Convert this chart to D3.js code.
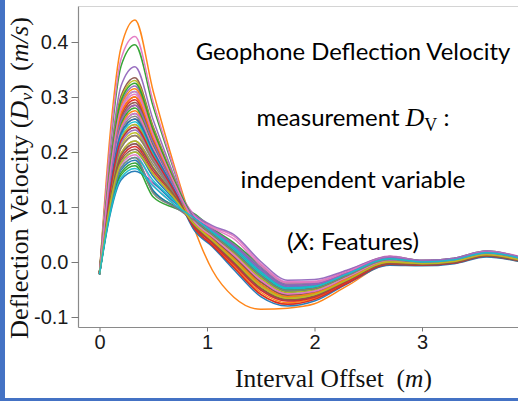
<!DOCTYPE html>
<html><head><meta charset="utf-8">
<script src="https://cdn.jsdelivr.net/npm/d3@7"></script>
<style>body{margin:0;background:#fff;} svg{display:block;}</style>
</head><body><svg id="chart" width="518" height="401"></svg>
<script>
// Interval offsets (m) at which each deflection-velocity curve is sampled
const offsets = [0, 0.1, 0.2, 0.33, 0.5, 0.7, 0.88, 1.05, 1.25, 1.5, 1.75, 2.0, 2.3, 2.7, 3.0, 3.3, 3.6, 3.95];

// Deflection velocity curves (m/s), one array per measurement
const c00 = [-0.020, 0.143, 0.243, 0.270, 0.207, 0.133, 0.078, 0.046, 0.013, -0.033, -0.058, -0.053, -0.028, 0.002, -0.002, 0.002, 0.015, 0.003];
const c01 = [-0.021, 0.235, 0.390, 0.440, 0.310, 0.172, 0.062, -0.015, -0.064, -0.086, -0.084, -0.076, -0.044, -0.004, -0.006, 0.000, 0.013, 0.001];
const c02 = [-0.019, 0.209, 0.356, 0.395, 0.282, 0.163, 0.060, 0.037, -0.001, -0.048, -0.069, -0.062, -0.034, 0.000, -0.003, 0.001, 0.013, 0.002];
const c03 = [-0.022, 0.159, 0.270, 0.300, 0.225, 0.140, 0.082, 0.050, 0.019, -0.025, -0.052, -0.048, -0.025, 0.006, 0.000, 0.004, 0.017, 0.005];
const c04 = [-0.020, 0.188, 0.320, 0.355, 0.258, 0.153, 0.063, 0.041, 0.006, -0.040, -0.063, -0.057, -0.031, -0.002, -0.004, 0.000, 0.012, 0.001];
const c05 = [-0.018, 0.178, 0.302, 0.335, 0.246, 0.148, 0.075, 0.043, 0.009, -0.036, -0.060, -0.055, -0.030, 0.004, -0.001, 0.003, 0.016, 0.004];
const c06 = [-0.021, 0.217, 0.369, 0.410, 0.291, 0.166, 0.062, 0.034, -0.004, -0.051, -0.071, -0.064, -0.036, -0.004, -0.006, -0.002, 0.011, 0.000];
const c07 = [-0.020, 0.133, 0.225, 0.250, 0.195, 0.128, 0.066, 0.055, 0.026, -0.018, -0.047, -0.044, -0.022, 0.008, 0.002, 0.006, 0.018, 0.006];
const c08 = [-0.019, 0.175, 0.297, 0.330, 0.243, 0.147, 0.080, 0.046, 0.013, -0.033, -0.058, -0.053, -0.028, 0.003, -0.001, 0.003, 0.015, 0.004];
const c09 = [-0.021, 0.164, 0.279, 0.310, 0.231, 0.142, 0.068, 0.048, 0.016, -0.029, -0.055, -0.050, -0.027, 0.001, -0.003, 0.001, 0.014, 0.002];
const c10 = [-0.023, 0.087, 0.149, 0.165, 0.144, 0.108, 0.085, 0.059, 0.032, -0.010, -0.041, -0.039, -0.019, 0.006, 0.000, 0.004, 0.017, 0.005];
const c11 = [-0.020, 0.122, 0.207, 0.230, 0.183, 0.123, 0.070, 0.052, 0.022, -0.021, -0.049, -0.046, -0.024, 0.005, 0.000, 0.004, 0.016, 0.005];
const c12 = [-0.022, 0.095, 0.162, 0.180, 0.128, 0.102, 0.088, 0.061, 0.035, -0.006, -0.038, -0.037, -0.018, 0.010, 0.003, 0.007, 0.020, 0.007];
const c13 = [-0.019, 0.151, 0.257, 0.285, 0.216, 0.136, 0.064, 0.039, 0.003, -0.044, -0.066, -0.059, -0.033, -0.001, -0.004, 0.000, 0.013, 0.002];
const c14 = [-0.020, 0.170, 0.288, 0.320, 0.237, 0.145, 0.083, 0.057, 0.029, -0.014, -0.044, -0.041, -0.021, 0.007, 0.001, 0.005, 0.018, 0.006];
const c15 = [-0.021, 0.138, 0.234, 0.260, 0.201, 0.130, 0.074, 0.043, 0.009, -0.036, -0.060, -0.055, -0.030, 0.002, -0.002, 0.002, 0.015, 0.003];
const c16 = [-0.020, 0.162, 0.275, 0.305, 0.228, 0.141, 0.086, 0.064, 0.047, -0.003, -0.036, -0.035, -0.016, 0.011, 0.003, 0.007, 0.020, 0.008];
const c17 = [-0.018, 0.117, 0.198, 0.220, 0.177, 0.121, 0.069, 0.050, 0.019, -0.025, -0.052, -0.048, -0.025, 0.004, -0.001, 0.003, 0.016, 0.004];
const c18 = [-0.020, 0.125, 0.212, 0.235, 0.186, 0.124, 0.072, 0.041, 0.006, -0.040, -0.063, -0.057, -0.031, 0.002, -0.002, 0.002, 0.015, 0.003];
const c19 = [-0.021, 0.130, 0.221, 0.245, 0.192, 0.127, 0.078, 0.052, 0.022, -0.021, -0.049, -0.046, -0.024, 0.006, 0.000, 0.004, 0.017, 0.005];
const c20 = [-0.022, 0.106, 0.180, 0.200, 0.155, 0.112, 0.070, 0.055, 0.026, -0.018, -0.047, -0.044, -0.022, 0.005, 0.000, 0.004, 0.016, 0.005];
const c21 = [-0.019, 0.146, 0.248, 0.275, 0.210, 0.134, 0.060, 0.032, -0.007, -0.055, -0.074, -0.066, -0.037, -0.003, -0.005, -0.001, 0.011, 0.000];
const c22 = [-0.023, 0.093, 0.158, 0.175, 0.118, 0.098, 0.084, 0.059, 0.032, -0.010, -0.041, -0.039, -0.019, 0.009, 0.002, 0.006, 0.019, 0.006];
const c23 = [-0.020, 0.156, 0.266, 0.295, 0.222, 0.139, 0.066, 0.037, -0.001, -0.048, -0.069, -0.062, -0.034, 0.000, -0.003, 0.001, 0.013, 0.002];
const c24 = [-0.021, 0.114, 0.194, 0.215, 0.170, 0.120, 0.086, 0.066, 0.050, 0.001, -0.033, -0.032, -0.015, 0.010, 0.003, 0.007, 0.020, 0.007];
const c25 = [-0.020, 0.154, 0.261, 0.290, 0.219, 0.138, 0.076, 0.048, 0.016, -0.029, -0.055, -0.050, -0.027, 0.004, -0.001, 0.003, 0.016, 0.004];
const c26 = [-0.022, 0.103, 0.176, 0.195, 0.140, 0.104, 0.072, 0.046, 0.013, -0.033, -0.058, -0.053, -0.028, 0.001, -0.003, 0.001, 0.014, 0.002];
const c27 = [-0.019, 0.140, 0.239, 0.265, 0.204, 0.132, 0.081, 0.055, 0.026, -0.018, -0.047, -0.044, -0.022, 0.007, 0.001, 0.005, 0.018, 0.006];
const c28 = [-0.020, 0.133, 0.225, 0.250, 0.195, 0.128, 0.066, 0.039, 0.003, -0.044, -0.066, -0.059, -0.033, -0.002, -0.004, 0.000, 0.012, 0.001];
const c29 = [-0.021, 0.135, 0.230, 0.255, 0.198, 0.129, 0.071, 0.050, 0.019, -0.025, -0.052, -0.048, -0.025, 0.003, -0.001, 0.003, 0.015, 0.004];
const c30 = [-0.022, 0.098, 0.167, 0.185, 0.130, 0.100, 0.082, 0.057, 0.029, -0.014, -0.044, -0.041, -0.021, 0.008, 0.002, 0.006, 0.018, 0.006];
const c31 = [-0.020, 0.167, 0.284, 0.315, 0.234, 0.144, 0.061, 0.030, -0.010, -0.059, -0.077, -0.068, -0.039, -0.005, -0.006, -0.002, 0.010, -0.001];
const c32 = [-0.019, 0.148, 0.252, 0.280, 0.213, 0.135, 0.077, 0.052, 0.022, -0.021, -0.049, -0.046, -0.024, 0.004, -0.001, 0.003, 0.016, 0.004];
const c33 = [-0.021, 0.111, 0.189, 0.210, 0.165, 0.118, 0.066, 0.034, -0.004, -0.051, -0.071, -0.064, -0.036, -0.001, -0.004, 0.000, 0.013, 0.002];
const c34 = [-0.020, 0.127, 0.216, 0.240, 0.189, 0.126, 0.085, 0.059, 0.032, -0.010, -0.041, -0.039, -0.019, 0.007, 0.001, 0.005, 0.018, 0.006];
const c35 = [-0.022, 0.109, 0.185, 0.205, 0.160, 0.116, 0.070, 0.043, 0.009, -0.036, -0.060, -0.055, -0.030, 0.000, -0.003, 0.001, 0.013, 0.002];
const c36 = [-0.020, 0.143, 0.243, 0.270, 0.207, 0.133, 0.084, 0.062, 0.042, -0.006, -0.038, -0.037, -0.018, 0.009, 0.002, 0.006, 0.019, 0.006];
const c37 = [-0.019, 0.122, 0.207, 0.230, 0.183, 0.123, 0.068, 0.041, 0.006, -0.040, -0.063, -0.057, -0.031, 0.001, -0.003, 0.001, 0.014, 0.002];
const c38 = [-0.021, 0.117, 0.198, 0.220, 0.172, 0.120, 0.075, 0.048, 0.016, -0.029, -0.055, -0.050, -0.027, 0.002, -0.002, 0.002, 0.015, 0.003];
const c39 = [-0.022, 0.101, 0.171, 0.190, 0.148, 0.110, 0.074, 0.052, 0.022, -0.021, -0.049, -0.046, -0.024, 0.006, 0.000, 0.004, 0.017, 0.005];
const c40 = [-0.020, 0.138, 0.234, 0.260, 0.201, 0.130, 0.058, 0.028, -0.014, -0.063, -0.080, -0.071, -0.040, -0.006, -0.007, -0.003, 0.009, -0.001];
const c41 = [-0.021, 0.159, 0.270, 0.300, 0.225, 0.140, 0.073, 0.041, 0.006, -0.040, -0.063, -0.057, -0.031, -0.001, -0.004, 0.000, 0.013, 0.002];
const c42 = [-0.019, 0.172, 0.293, 0.325, 0.240, 0.146, 0.079, 0.050, 0.019, -0.025, -0.052, -0.048, -0.025, 0.005, 0.000, 0.004, 0.016, 0.005];
const c43 = [-0.020, 0.130, 0.221, 0.245, 0.192, 0.127, 0.062, 0.030, -0.010, -0.059, -0.077, -0.068, -0.039, -0.004, -0.006, -0.002, 0.011, 0.000];
const c44 = [-0.022, 0.151, 0.257, 0.285, 0.216, 0.136, 0.080, 0.057, 0.029, -0.014, -0.044, -0.041, -0.021, 0.008, 0.002, 0.006, 0.018, 0.006];
const c45 = [-0.021, 0.114, 0.194, 0.215, 0.170, 0.120, 0.067, 0.037, -0.001, -0.048, -0.069, -0.062, -0.034, -0.003, -0.005, -0.001, 0.011, 0.000];
const c46 = [-0.020, 0.164, 0.279, 0.310, 0.231, 0.142, 0.074, 0.046, 0.013, -0.033, -0.058, -0.053, -0.028, 0.003, -0.001, 0.003, 0.015, 0.004];
const c47 = [-0.023, 0.101, 0.171, 0.190, 0.125, 0.100, 0.076, 0.050, 0.019, -0.025, -0.052, -0.048, -0.025, 0.004, -0.001, 0.003, 0.016, 0.004];
const c48 = [-0.021, 0.106, 0.180, 0.200, 0.160, 0.115, 0.069, 0.039, 0.003, -0.044, -0.066, -0.059, -0.033, 0.000, -0.003, 0.001, 0.013, 0.002];
const c49 = [-0.022, 0.090, 0.153, 0.170, 0.138, 0.104, 0.080, 0.055, 0.026, -0.018, -0.047, -0.044, -0.022, 0.006, 0.000, 0.004, 0.017, 0.005];

const series = [c00,c01,c02,c03,c04,c05,c06,c07,c08,c09,c10,c11,c12,c13,c14,c15,c16,c17,c18,c19,
                c20,c21,c22,c23,c24,c25,c26,c27,c28,c29,c30,c31,c32,c33,c34,c35,c36,c37,c38,c39,
                c40,c41,c42,c43,c44,c45,c46,c47,c48,c49];

const palette = ["#1f77b4","#ff7f0e","#2ca02c","#d62728","#9467bd","#8c564b","#e377c2","#7f7f7f","#bcbd22","#17becf"];
const xTicks = [0, 1, 2, 3];
const xTickLabels = ["0", "1", "2", "3"];
const yTicks = [-0.1, 0.0, 0.1, 0.2, 0.3, 0.4];
const yTickLabels = ["-0.1", "0.0", "0.1", "0.2", "0.3", "0.4"];
const noteLines = ["Geophone Deflection Velocity", "measurement ", "independent variable", ": Features)"];

const svg = d3.select("#chart");
const W = 518, H = 401;
const plot = {left: 78.5, top: 6.5, right: 518, bottom: 327.5};

const x = d3.scaleLinear().domain([0, 1]).range([99.5, 207]);
const y = d3.scaleLinear().domain([0, 0.4]).range([262, 42]);

svg.append("rect").attr("width", W).attr("height", H).attr("fill", "#fff");

svg.append("defs").append("clipPath").attr("id", "clip")
  .append("rect").attr("x", plot.left).attr("y", plot.top)
  .attr("width", plot.right - plot.left).attr("height", plot.bottom - plot.top);

const line = d3.line().x((d, i) => x(offsets[i])).y(d => y(d)).curve(d3.curveMonotoneX);
svg.append("g").attr("clip-path", "url(#clip)")
  .selectAll("path").data(series).join("path")
  .attr("d", line)
  .attr("fill", "none")
  .attr("stroke", (d, i) => palette[i % 10])
  .attr("stroke-width", 1.5)
  .attr("stroke-opacity", 0.95);

svg.append("line").attr("x1", plot.left).attr("x2", plot.right).attr("y1", plot.top).attr("y2", plot.top)
  .attr("stroke", "#d4d4d4").attr("stroke-width", 1);
svg.append("line").attr("x1", plot.left).attr("x2", plot.left).attr("y1", plot.top).attr("y2", plot.bottom)
  .attr("stroke", "#8a8a8a").attr("stroke-width", 1.2);
svg.append("line").attr("x1", plot.left).attr("x2", plot.right).attr("y1", plot.bottom).attr("y2", plot.bottom)
  .attr("stroke", "#8a8a8a").attr("stroke-width", 1.2);

const yAxis = d3.axisLeft(y).tickValues(yTicks).tickFormat((d, i) => yTickLabels[i]).tickSize(7).tickPadding(3);
const gy = svg.append("g").attr("transform", `translate(${plot.left},0)`).call(yAxis);
gy.select(".domain").remove();
gy.selectAll(".tick line").attr("stroke", "#777");
gy.selectAll(".tick text").attr("font-family", "'Liberation Sans', Arial, sans-serif").attr("font-size", 20).attr("fill", "#1a1a1a");

const xAxis = d3.axisBottom(x).tickValues(xTicks).tickFormat((d, i) => xTickLabels[i]).tickSize(4).tickPadding(3);
const gx = svg.append("g").attr("transform", `translate(0,${plot.bottom})`).call(xAxis);
gx.select(".domain").remove();
gx.selectAll(".tick line").attr("stroke", "#777");
gx.selectAll(".tick text").attr("font-family", "'Liberation Sans', Arial, sans-serif").attr("font-size", 20).attr("fill", "#1a1a1a");

function fitH(sel, target, cx) {
  const w = sel.node().getComputedTextLength();
  const s = target / w;
  sel.attr("transform", `translate(${cx},0) scale(${s},1) translate(${-cx},0)`);
}

const noteFont = "Lato, 'Open Sans', sans-serif";
const cx = 353;
const t1 = svg.append("text").attr("x", cx).attr("y", 60).attr("text-anchor", "middle")
  .attr("font-family", noteFont).attr("font-size", 24).attr("fill", "#000").text(noteLines[0]);
fitH(t1, 315, cx);

const t2 = svg.append("text").attr("x", cx).attr("y", 126).attr("text-anchor", "middle")
  .attr("font-family", noteFont).attr("font-size", 24).attr("fill", "#000").style("white-space", "pre");
t2.append("tspan").text(noteLines[1]);
t2.append("tspan").attr("font-family", "'Liberation Serif', serif").attr("font-style", "italic").attr("font-size", 26).text("D");
t2.append("tspan").attr("font-family", "'Liberation Serif', serif").attr("font-size", 18).attr("dy", 5).text("V");
t2.append("tspan").attr("dy", -5).text(" :");
fitH(t2, 193, cx);

const t3 = svg.append("text").attr("x", cx).attr("y", 188).attr("text-anchor", "middle")
  .attr("font-family", noteFont).attr("font-size", 24).attr("fill", "#000").text(noteLines[2]);
fitH(t3, 225, cx);

const t4 = svg.append("text").attr("x", cx).attr("y", 250).attr("text-anchor", "middle")
  .attr("font-family", noteFont).attr("font-size", 24).attr("fill", "#000").style("white-space", "pre");
t4.append("tspan").text("(");
t4.append("tspan").attr("font-style", "italic").text("X");
t4.append("tspan").text(noteLines[3]);
fitH(t4, 132, cx);

const serif = "'Liberation Serif', 'Times New Roman', serif";
const xl = svg.append("text").attr("x", 333.5).attr("y", 387).attr("text-anchor", "middle")
  .attr("font-family", serif).attr("font-size", 25).attr("fill", "#111").style("white-space", "pre");
xl.append("tspan").text("Interval Offset  (");
xl.append("tspan").attr("font-style", "italic").text("m");
xl.append("tspan").text(")");
fitH(xl, 197, 333.5);

const gyl = svg.append("g").attr("transform", "translate(28,178) rotate(-90)");
const yl = gyl.append("text").attr("x", 0).attr("y", 0).attr("text-anchor", "middle")
  .attr("font-family", serif).attr("font-size", 25).attr("fill", "#111").style("white-space", "pre");
yl.append("tspan").text("Deflection Velocity (");
yl.append("tspan").attr("font-style", "italic").text("D");
yl.append("tspan").attr("font-style", "italic").attr("font-size", 17).attr("dy", 4).text("v");
yl.append("tspan").attr("dy", -4).text(")  (");
yl.append("tspan").attr("font-style", "italic").text("m/s");
yl.append("tspan").text(")");
fitH(yl, 322, 0);

svg.append("rect").attr("x", 0).attr("y", 0).attr("width", 5).attr("height", H).attr("fill", "#4472c4");
svg.append("rect").attr("x", 0).attr("y", 398).attr("width", W).attr("height", 3).attr("fill", "#4472c4");
</script>
</body></html>
